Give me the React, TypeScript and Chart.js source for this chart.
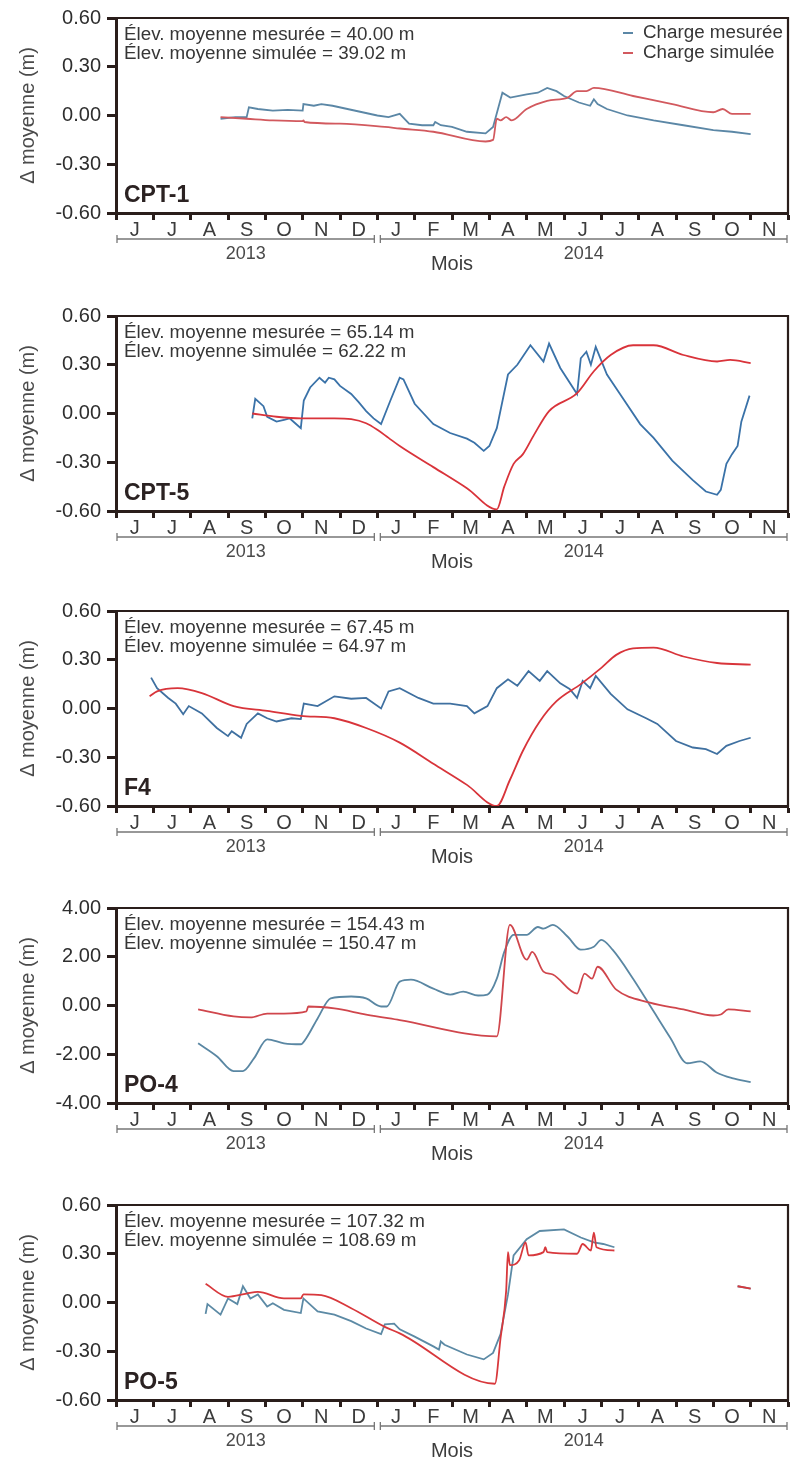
import React, { useEffect, useRef } from 'react';
import { Chart, registerables } from 'chart.js';

Chart.register(...registerables);

const FONT = "'Liberation Sans', Arial, Helvetica, sans-serif";
const FRAME = '#2a1e1b';
const TEXT = '#363636';

// x axis: months from 1 June 2013 (0) to 1 December 2014 (18)
const monthLetters = ['J', 'J', 'A', 'S', 'O', 'N', 'D', 'J', 'F', 'M', 'A', 'M', 'J', 'J', 'A', 'S', 'O', 'N'];
const monthEdges = [0, 1, 2, 3, 4, 5, 6, 7, 8, 9, 10, 11, 12, 13, 14, 15, 16, 17, 18];
const yearLabels = ['2013', '2014'];
const yearSpans: [number, number][] = [[0, 7], [7, 18]];

const smallTicks = [-0.6, -0.3, 0, 0.3, 0.6];
const smallTickLabels = ['-0.60', '-0.30', '0.00', '0.30', '0.60'];
const po4Ticks = [-4, -2, 0, 2, 4];
const po4TickLabels = ['-4.00', '-2.00', '0.00', '2.00', '4.00'];

type Pt = [number, number | null];

const cpt1Measured: Pt[] = [
  [2.8, -0.02], [3.2, -0.01], [3.5, -0.01], [3.56, 0.05], [3.8, 0.04], [4.2, 0.03], [4.6, 0.035], [5.0, 0.03],
  [5.02, 0.07], [5.3, 0.06], [5.5, 0.07], [5.8, 0.06], [6.2, 0.04], [6.6, 0.02], [7.0, 0.0], [7.3, -0.01],
  [7.6, 0.01], [7.85, -0.05], [8.2, -0.06], [8.5, -0.06], [8.55, -0.04], [8.7, -0.06], [9.0, -0.07], [9.4, -0.1],
  [9.9, -0.11], [10.1, -0.07], [10.35, 0.14], [10.56, 0.11], [11.0, 0.13], [11.3, 0.14], [11.55, 0.17], [11.8, 0.15],
  [12.0, 0.12], [12.4, 0.08], [12.7, 0.06], [12.8, 0.1], [12.9, 0.07], [13.15, 0.04], [13.7, 0.0], [14.4, -0.03],
  [15.2, -0.06], [16.0, -0.09], [16.5, -0.1], [17.0, -0.115],
];
const cpt1Simulated: Pt[] = [
  [2.8, -0.01], [3.5, -0.02], [4.2, -0.03], [5.0, -0.035], [5.02, -0.03], [5.05, -0.04], [6.0, -0.05], [7.2, -0.07],
  [7.6, -0.08], [8.5, -0.1], [9.9, -0.16], [10.1, -0.15], [10.2, -0.02], [10.3, -0.03], [10.45, -0.01], [10.6, -0.03],
  [11.0, 0.04], [11.55, 0.09], [12.1, 0.11], [12.35, 0.15], [12.6, 0.15], [12.8, 0.17], [13.85, 0.12], [14.9, 0.07],
  [16.0, 0.02], [16.25, 0.04], [16.5, 0.01], [17.0, 0.01],
];

const cpt5Measured: Pt[] = [
  [3.65, -0.03], [3.73, 0.09], [3.95, 0.045], [4.05, -0.02], [4.3, -0.05], [4.5, -0.04], [4.65, -0.03], [4.8, -0.06],
  [4.95, -0.09], [5.03, 0.08], [5.2, 0.16], [5.45, 0.22], [5.6, 0.19], [5.7, 0.22], [5.85, 0.21], [6.0, 0.17],
  [6.3, 0.12], [6.5, 0.07], [6.7, 0.015], [6.9, -0.03], [7.1, -0.065], [7.35, 0.08], [7.6, 0.22], [7.7, 0.21],
  [8.0, 0.06], [8.5, -0.065], [8.95, -0.12], [9.4, -0.155], [9.6, -0.18], [9.85, -0.23], [10.0, -0.2], [10.2, -0.09],
  [10.5, 0.24], [10.75, 0.3], [11.1, 0.42], [11.45, 0.32], [11.6, 0.43], [11.9, 0.28], [12.35, 0.12], [12.45, 0.34],
  [12.6, 0.38], [12.72, 0.3], [12.85, 0.41], [13.15, 0.24], [13.5, 0.12], [14.04, -0.065], [14.4, -0.15], [14.9, -0.29],
  [15.45, -0.41], [15.8, -0.48], [16.1, -0.5], [16.2, -0.47], [16.35, -0.31], [16.5, -0.25], [16.65, -0.2],
  [16.75, -0.05], [16.97, 0.11],
];
const cpt5Simulated: Pt[] = [
  [3.65, 0.0], [4.3, -0.02], [4.95, -0.03], [5.85, -0.03], [6.3, -0.035], [6.7, -0.06], [7.0, -0.1], [7.3, -0.15],
  [7.6, -0.2], [8.5, -0.33], [9.4, -0.46], [10.2, -0.59], [10.4, -0.45], [10.65, -0.31], [10.9, -0.25], [11.2, -0.13],
  [11.6, 0.015], [12.35, 0.125], [12.8, 0.26], [13.25, 0.36], [13.85, 0.42], [14.4, 0.42], [15.2, 0.36], [16.1, 0.32],
  [16.45, 0.33], [17.0, 0.31],
];

const f4Measured: Pt[] = [
  [0.94, 0.19], [1.1, 0.125], [1.4, 0.065], [1.6, 0.03], [1.8, -0.035], [1.95, 0.015], [2.3, -0.03], [2.7, -0.12],
  [3.0, -0.17], [3.1, -0.14], [3.35, -0.18], [3.5, -0.095], [3.8, -0.03], [4.05, -0.06], [4.3, -0.08], [4.7, -0.06],
  [4.95, -0.065], [5.03, 0.03], [5.4, 0.015], [5.85, 0.075], [6.3, 0.06], [6.7, 0.065], [7.1, 0.0], [7.3, 0.105],
  [7.6, 0.125], [8.1, 0.065], [8.5, 0.03], [8.95, 0.03], [9.4, 0.015], [9.6, -0.03], [9.95, 0.015], [10.2, 0.125],
  [10.5, 0.18], [10.75, 0.14], [11.05, 0.23], [11.35, 0.17], [11.55, 0.23], [11.9, 0.155], [12.15, 0.12],
  [12.35, 0.065], [12.5, 0.17], [12.7, 0.125], [12.85, 0.2], [13.25, 0.09], [13.7, -0.005], [14.2, -0.06],
  [14.5, -0.095], [15.0, -0.2], [15.45, -0.24], [15.8, -0.25], [16.1, -0.28], [16.35, -0.23], [16.7, -0.2], [17.0, -0.18],
];
const f4Simulated: Pt[] = [
  [0.9, 0.075], [1.1, 0.105], [1.65, 0.125], [2.3, 0.095], [3.15, 0.015], [4.05, -0.015], [4.95, -0.045], [5.85, -0.06],
  [6.7, -0.12], [7.6, -0.21], [8.5, -0.34], [9.4, -0.47], [10.2, -0.6], [10.55, -0.44], [10.9, -0.26], [11.35, -0.08],
  [11.8, 0.045], [12.45, 0.15], [13.0, 0.25], [13.4, 0.33], [13.85, 0.37], [14.4, 0.375], [15.2, 0.32], [16.1, 0.28],
  [17.0, 0.27],
];

const po4Measured: Pt[] = [
  [2.2, -1.55], [2.7, -2.08], [3.15, -2.69], [3.4, -2.69], [3.7, -2.16], [4.05, -1.39], [4.5, -1.55], [4.95, -1.59],
  [5.1, -1.33], [5.4, -0.53], [5.75, 0.29], [6.3, 0.37], [6.7, 0.29], [7.1, -0.04], [7.25, -0.04], [7.6, 0.98],
  [7.9, 1.06], [8.5, 0.69], [8.95, 0.45], [9.3, 0.57], [9.7, 0.41], [9.95, 0.45], [10.2, 1.1], [10.4, 2.2],
  [10.65, 2.9], [11.0, 2.9], [11.3, 3.22], [11.45, 3.15], [11.7, 3.31], [12.1, 2.82], [12.45, 2.29], [12.8, 2.41],
  [13.0, 2.69], [13.3, 2.29], [13.85, 1.1], [14.4, -0.24], [14.85, -1.33], [15.3, -2.37], [15.65, -2.29],
  [16.1, -2.76], [16.5, -2.98], [17.0, -3.14],
];
const po4Simulated: Pt[] = [
  [2.2, -0.16], [3.15, -0.45], [3.6, -0.49], [4.05, -0.33], [4.5, -0.33], [5.1, -0.24], [5.15, -0.04], [5.85, -0.12],
  [6.7, -0.37], [7.6, -0.6], [10.2, -1.27], [10.55, 3.31], [11.0, 1.88], [11.15, 2.2], [11.45, 1.39], [11.7, 1.27],
  [12.35, 0.49], [12.55, 1.31], [12.75, 1.1], [12.9, 1.59], [13.4, 0.65], [14.3, 0.12], [15.2, -0.16], [16.0, -0.41],
  [16.2, -0.37], [16.4, -0.16], [17.0, -0.24],
];

const po5Measured: Pt[] = [
  [2.4, -0.07], [2.45, -0.01], [2.8, -0.075], [3.0, 0.025], [3.25, -0.01], [3.4, 0.1], [3.6, 0.025], [3.8, 0.05],
  [4.05, -0.025], [4.2, -0.005], [4.5, -0.045], [4.95, -0.065], [5.02, 0.025], [5.4, -0.055], [5.85, -0.075],
  [6.3, -0.115], [6.7, -0.16], [7.1, -0.195], [7.2, -0.135], [7.45, -0.13], [7.6, -0.165], [8.0, -0.21], [8.5, -0.27],
  [8.65, -0.29], [8.7, -0.24], [8.8, -0.26], [9.4, -0.32], [9.85, -0.35], [10.1, -0.31], [10.3, -0.195], [10.5, 0.05],
  [10.65, 0.29], [11.0, 0.39], [11.35, 0.44], [12.0, 0.45], [12.45, 0.4], [12.8, 0.37], [13.05, 0.36], [13.35, 0.34],
  [14.5, null], [16.65, 0.1], [17.0, 0.085],
];
const po5Simulated: Pt[] = [
  [2.4, 0.115], [3.0, 0.035], [3.5, 0.055], [3.8, 0.065], [4.5, 0.025], [4.95, 0.025], [5.02, 0.05], [5.5, 0.045],
  [6.3, -0.035], [7.2, -0.15], [7.6, -0.19], [10.15, -0.5], [10.3, -0.22], [10.45, 0.07], [10.5, 0.31], [10.55, 0.23],
  [10.8, 0.26], [10.97, 0.37], [11.05, 0.29], [11.45, 0.31], [11.5, 0.34], [11.55, 0.31], [12.35, 0.3], [12.5, 0.36],
  [12.72, 0.32], [12.8, 0.43], [12.87, 0.34], [13.35, 0.32], [14.5, null], [16.65, 0.1], [17.0, 0.085],
];

interface PanelCfg {
  name: string;
  measured: Pt[];
  simulated: Pt[];
  ticks: number[];
  tickLabels: string[];
  meanMeasured: string;
  meanSimulated: string;
  legend: boolean;
  blue: string;
  red: string;
  smoothMeasured: boolean;
  top: number;
}

const panels: PanelCfg[] = [
  { name: 'CPT-1', measured: cpt1Measured, simulated: cpt1Simulated, ticks: smallTicks, tickLabels: smallTickLabels,
    meanMeasured: '40.00', meanSimulated: '39.02', legend: true, blue: '#5b87a6', red: '#d2595e', smoothMeasured: false, top: 0 },
  { name: 'CPT-5', measured: cpt5Measured, simulated: cpt5Simulated, ticks: smallTicks, tickLabels: smallTickLabels,
    meanMeasured: '65.14', meanSimulated: '62.22', legend: false, blue: '#3a72a8', red: '#d9333a', smoothMeasured: false, top: 298 },
  { name: 'F4', measured: f4Measured, simulated: f4Simulated, ticks: smallTicks, tickLabels: smallTickLabels,
    meanMeasured: '67.45', meanSimulated: '64.97', legend: false, blue: '#3f70a0', red: '#d8343a', smoothMeasured: false, top: 593 },
  { name: 'PO-4', measured: po4Measured, simulated: po4Simulated, ticks: po4Ticks, tickLabels: po4TickLabels,
    meanMeasured: '154.43', meanSimulated: '150.47', legend: false, blue: '#5a87a3', red: '#d0464c', smoothMeasured: true, top: 890 },
  { name: 'PO-5', measured: po5Measured, simulated: po5Simulated, ticks: smallTicks, tickLabels: smallTickLabels,
    meanMeasured: '107.32', meanSimulated: '108.69', legend: false, blue: '#5c8aa5', red: '#d8383c', smoothMeasured: false, top: 1187 },
];

const CANVAS_W = 793;
const CANVAS_H = 280;
const PLOT_H = 197;

function Panel({ cfg }: { cfg: PanelCfg }) {
  const ref = useRef<HTMLCanvasElement | null>(null);
  useEffect(() => {
    if (!ref.current) return;
    const decor = {
      id: 'decor',
      afterDraw(chart: any) {
        const ctx = chart.ctx as CanvasRenderingContext2D;
        const { left, right, top, bottom } = chart.chartArea;
        const xs = chart.scales.x;
        ctx.save();
        // top & right frame
        ctx.strokeStyle = FRAME;
        ctx.lineWidth = 2.2;
        ctx.beginPath();
        ctx.moveTo(left, top);
        ctx.lineTo(right, top);
        ctx.lineTo(right, bottom + 1);
        ctx.stroke();
        // month letters
        ctx.fillStyle = '#3c3c3c';
        ctx.font = `20px ${FONT}`;
        ctx.textAlign = 'center';
        ctx.textBaseline = 'middle';
        monthLetters.forEach((m, i) => {
          ctx.fillText(m, xs.getPixelForValue(i + 0.5), bottom + 17);
        });
        // year brackets
        ctx.strokeStyle = '#777';
        ctx.lineWidth = 1.3;
        const by = bottom + 26;
        yearSpans.forEach(([a, b], i) => {
          const x1 = xs.getPixelForValue(a) + (i === 0 ? 1 : 3);
          const x2 = xs.getPixelForValue(b) - (i === 0 ? 3 : 1);
          ctx.beginPath();
          ctx.moveTo(x1, by);
          ctx.lineTo(x2, by);
          ctx.moveTo(x1, by - 4);
          ctx.lineTo(x1, by + 4);
          ctx.moveTo(x2, by - 4);
          ctx.lineTo(x2, by + 4);
          ctx.stroke();
          ctx.fillStyle = '#4a4a4a';
          ctx.font = `18px ${FONT}`;
          ctx.fillText(yearLabels[i], (x1 + x2) / 2, bottom + 41);
        });
        // annotation
        ctx.textAlign = 'left';
        ctx.fillStyle = TEXT;
        ctx.font = `18.8px ${FONT}`;
        ctx.fillText(`Élev. moyenne mesurée = ${cfg.meanMeasured} m`, left + 8, top + 17);
        ctx.fillText(`Élev. moyenne simulée = ${cfg.meanSimulated} m`, left + 8, top + 36);
        // station
        ctx.fillStyle = '#2b2222';
        ctx.font = `bold 23px ${FONT}`;
        ctx.fillText(cfg.name, left + 8, top + 178);
        // legend
        if (cfg.legend) {
          chart.data.datasets.forEach((ds: any, i: number) => {
            const y = top + 15 + i * 20;
            ctx.strokeStyle = ds.borderColor;
            ctx.lineWidth = 2;
            ctx.beginPath();
            ctx.moveTo(right - 165, y);
            ctx.lineTo(right - 155, y);
            ctx.stroke();
            ctx.fillStyle = TEXT;
            ctx.font = `18.8px ${FONT}`;
            ctx.fillText(ds.label, right - 145, y);
          });
        }
        ctx.restore();
      },
    };
    const toData = (pts: Pt[]) => pts.map(([x, y]) => ({ x, y }));
    const chart = new Chart(ref.current, {
      type: 'line',
      data: {
        datasets: [
          { label: 'Charge mesurée', data: toData(cfg.measured) as any, borderColor: cfg.blue, borderWidth: 1.8,
            pointRadius: 0, cubicInterpolationMode: cfg.smoothMeasured ? 'monotone' : 'default', tension: 0,
            spanGaps: false, fill: false, order: 1 },
          { label: 'Charge simulée', data: toData(cfg.simulated) as any, borderColor: cfg.red, borderWidth: 1.8,
            pointRadius: 0, cubicInterpolationMode: 'monotone', spanGaps: false, fill: false, order: 0 },
        ],
      },
      options: {
        responsive: false,
        animation: false,
        devicePixelRatio: 1,
        events: [],
        layout: { padding: { left: 0, right: 5, top: 16, bottom: 0 } },
        plugins: { legend: { display: false }, tooltip: { enabled: false } },
        scales: {
          x: {
            type: 'linear',
            min: 0,
            max: 18,
            afterBuildTicks: (s: any) => { s.ticks = monthEdges.map((v) => ({ value: v })); },
            afterFit: (s: any) => { s.height = CANVAS_H - 16 - PLOT_H; },
            ticks: { display: false },
            grid: { drawOnChartArea: false, drawTicks: true, tickLength: 7, tickWidth: 3, tickColor: FRAME },
            border: { display: true, width: 3, color: FRAME },
            title: { display: true, text: 'Mois', color: '#3c3c3c', font: { family: FONT, size: 20 },
              padding: { top: 0, bottom: 4 } },
          },
          y: {
            type: 'linear',
            min: cfg.ticks[0],
            max: cfg.ticks[cfg.ticks.length - 1],
            afterBuildTicks: (s: any) => { s.ticks = cfg.ticks.map((v) => ({ value: v })); },
            afterFit: (s: any) => { s.width = 116; },
            ticks: { callback: (_v: any, i: number) => cfg.tickLabels[i], color: '#2e2e2e',
              font: { family: FONT, size: 20 }, padding: 6, autoSkip: false },
            grid: { drawOnChartArea: false, drawTicks: true, tickLength: 9, tickWidth: 3, tickColor: FRAME },
            border: { display: true, width: 3, color: FRAME },
            title: { display: true, text: 'Δ moyenne (m)', color: '#4a4a4a', font: { family: FONT, size: 20 },
              padding: { top: 16, bottom: 0 } },
          },
        },
      } as any,
      plugins: [decor],
    });
    return () => chart.destroy();
  }, [cfg]);
  return (
    <canvas
      ref={ref}
      width={CANVAS_W}
      height={CANVAS_H}
      style={{ position: 'absolute', left: 0, top: cfg.top, width: CANVAS_W, height: CANVAS_H }}
    />
  );
}

export default function App() {
  return (
    <div style={{ position: 'absolute', left: 0, top: 0, width: 793, height: 1458, overflow: 'hidden', background: '#fff' }}>
      {panels.map((p) => (
        <Panel key={p.name} cfg={p} />
      ))}
    </div>
  );
}
